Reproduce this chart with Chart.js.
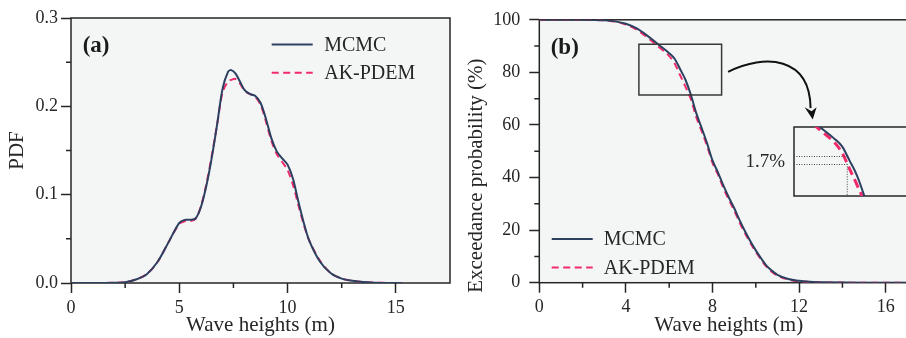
<!DOCTYPE html>
<html>
<head>
<meta charset="utf-8">
<script src="https://cdn.jsdelivr.net/npm/chart.js@4.4.1/dist/chart.umd.min.js"></script>
<style>
  html, body { margin: 0; padding: 0; width: 906px; height: 338px; overflow: hidden; background: #fff; }
  canvas { position: absolute; top: 0; }
  #chartA { left: 0; }
  #chartB { left: 460px; }
  #zoomB { left: 793px; top: 126px; }
</style>
</head>
<body>
<canvas id="chartA" width="460" height="338"></canvas>
<canvas id="chartB" width="460" height="338"></canvas>
<canvas id="zoomB" width="125" height="71"></canvas>
<script>
const FONT = "'Liberation Serif', 'Times New Roman', serif";
const INK = '#262626';
const PLOT_BG = '#f4f6f6';
const MCMC_COLOR = '#2c4060';
const AK_COLOR = '#f22a6c';

// (a) PDF of wave heights
const heightsA = [0, 1, 2, 2.5, 3, 3.5, 4, 4.5, 5, 5.25, 5.5, 5.75, 6, 6.25, 6.5, 6.75, 7, 7.25, 7.4, 7.6, 7.8, 8,
  8.25, 8.5, 8.75, 9, 9.25, 9.5, 9.75, 10, 10.25, 10.5, 10.75, 11, 11.5, 12, 12.5, 13, 13.5, 14, 15, 15.3];
const pdfMcmc = [0, 0, 0.0003, 0.001, 0.004, 0.010, 0.024, 0.046, 0.068, 0.0715, 0.0715, 0.073, 0.086, 0.110, 0.142,
  0.180, 0.220, 0.239, 0.241, 0.237, 0.228, 0.219, 0.214, 0.212, 0.204, 0.186, 0.164, 0.149, 0.141, 0.134, 0.118,
  0.092, 0.068, 0.048, 0.024, 0.011, 0.005, 0.0025, 0.001, 0.0004, 0, 0];
const pdfAkPdem = [0, 0, 0.0003, 0.001, 0.004, 0.010, 0.024, 0.046, 0.067, 0.070, 0.070, 0.0725, 0.087, 0.112, 0.144,
  0.180, 0.216, 0.228, 0.230, 0.231, 0.226, 0.218, 0.214, 0.211, 0.202, 0.183, 0.161, 0.146, 0.137, 0.128, 0.111,
  0.088, 0.066, 0.048, 0.025, 0.011, 0.005, 0.0025, 0.001, 0.0004, 0, 0];
const xTicksA = [0, 5, 10, 15];
const xMinorA = [2.5, 7.5, 12.5];
const yTicksA = [0, 0.1, 0.2, 0.3];
const yMinorA = [0.05, 0.15, 0.25];

// (b) exceedance probability (%)
const heightsB = [0, 1, 2, 2.5, 3, 3.5, 4, 4.5, 5, 5.5, 6, 6.25, 6.5, 6.75, 7, 7.25, 7.5, 7.75, 8, 8.25, 8.5, 8.75, 9,
  9.25, 9.5, 9.75, 10, 10.25, 10.5, 10.75, 11, 11.5, 12, 12.5, 13, 14, 15, 16, 17.5];
const exceedMcmc = [100, 100, 100, 99.95, 99.8, 99.4, 98.5, 96.7, 93.9, 90.6, 87.3, 85.2, 81.3, 77.2, 71.5, 64.5, 58.8,
  53.0, 46.5, 42.0, 37.0, 32.5, 28.4, 23.8, 19.6, 15.8, 12.3, 9.2, 6.4, 4.5, 3.0, 1.4, 0.7, 0.35, 0.2, 0.05, 0, 0, 0];
const exceedAkPdem = [100, 100, 100, 99.95, 99.8, 99.3, 98.2, 96.2, 93.2, 89.8, 86.2, 83.4, 79.0, 74.6, 69.8, 63.0, 57.6,
  52.0, 45.6, 41.2, 36.0, 31.6, 27.5, 22.9, 18.8, 15.1, 11.7, 8.7, 6.0, 4.1, 2.7, 1.2, 0.5, 0.3, 0.15, 0.04, 0, 0, 0];
const xTicksB = [0, 4, 8, 12, 16];
const xMinorB = [2, 6, 10, 14];
const yTicksB = [0, 20, 40, 60, 80, 100];
const yMinorB = [10, 30, 50, 70, 90];

// zoomed window in (b), the magnified inset and the marked gap
const zoomBox = { x: [4.6, 8.42], y: [71.4, 90.7] };
const zoomInset = { x: [4.6, 8.84], y: [71.4, 90.7] };
const gapX = 6.42;
const gapY = [82.5, 80.4];
const gapLabel = '1.7%';
// arrow from the window to the inset: start, two control points, end, tip
const arrowPath = [[8.72, 80.2], [10.43, 87.2], [12.5, 86.0], [12.53, 66.4], [12.63, 62.1]];

Chart.defaults.font.family = FONT;
Chart.defaults.color = INK;

function series(label, xs, ys, color, dash, width, smooth) {
  const ds = {
    label: label,
    data: xs.map((x, i) => ({ x: x, y: ys[i] })),
    borderColor: color,
    borderWidth: width,
    borderDash: dash,
    pointRadius: 0,
    fill: false
  };
  if (smooth) ds.tension = smooth;
  else ds.cubicInterpolationMode = 'monotone';
  return ds;
}

const plotFrame = {
  id: 'plotFrame',
  beforeDraw(chart) {
    const a = chart.chartArea, ctx = chart.ctx;
    ctx.save();
    ctx.fillStyle = PLOT_BG;
    ctx.fillRect(a.left, a.top, a.right - a.left, a.bottom - a.top);
    ctx.restore();
  },
  beforeDatasetsDraw(chart) {
    const a = chart.chartArea, ctx = chart.ctx;
    ctx.save();
    ctx.strokeStyle = INK;
    ctx.lineWidth = 1.5;
    ctx.strokeRect(a.left, a.top, a.right - a.left, a.bottom - a.top);
    ctx.restore();
  }
};

const minorTicks = {
  id: 'minorTicks',
  afterDraw(chart, args, o) {
    const ctx = chart.ctx, a = chart.chartArea;
    ctx.save();
    ctx.strokeStyle = INK;
    ctx.lineWidth = 1.5;
    ctx.beginPath();
    o.x.forEach(v => {
      const px = chart.scales.x.getPixelForValue(v);
      ctx.moveTo(px, a.bottom); ctx.lineTo(px, a.bottom + o.length);
    });
    o.y.forEach(v => {
      const py = chart.scales.y.getPixelForValue(v);
      ctx.moveTo(a.left, py); ctx.lineTo(a.left - o.length, py);
    });
    ctx.stroke();
    ctx.restore();
  }
};

// legend and panel letter drawn inside the plot area
const innerLegend = {
  id: 'innerLegend',
  afterDraw(chart, args, o) {
    const ctx = chart.ctx, a = chart.chartArea;
    chart.data.datasets.forEach((ds, i) => {
      const x = a.left + o.x, y = a.top + o.y + i * o.row;
      ctx.save();
      ctx.strokeStyle = ds.borderColor;
      ctx.lineWidth = ds.borderWidth;
      ctx.setLineDash(ds.borderDash);
      ctx.beginPath(); ctx.moveTo(x, y); ctx.lineTo(x + o.line, y); ctx.stroke();
      ctx.setLineDash([]);
      ctx.fillStyle = INK;
      ctx.font = '20px ' + FONT;
      ctx.textBaseline = 'middle';
      ctx.fillText(ds.label, x + o.line + o.gap, y + 1);
      ctx.restore();
    });
    ctx.save();
    ctx.fillStyle = '#1a1a1a';
    ctx.font = 'bold 23px ' + FONT;
    ctx.fillText(o.panel, a.left + o.panelX, a.top + o.panelY);
    ctx.restore();
  }
};

const zoomCallout = {
  id: 'zoomCallout',
  afterDraw(chart) {
    const ctx = chart.ctx, a = chart.chartArea, sx = chart.scales.x, sy = chart.scales.y;
    const P = p => [sx.getPixelForValue(p[0]), sy.getPixelForValue(p[1])];
    ctx.save();
    ctx.strokeStyle = '#383838';
    ctx.lineWidth = 1.5;
    const x0 = sx.getPixelForValue(zoomBox.x[0]), x1 = sx.getPixelForValue(zoomBox.x[1]);
    const y0 = sy.getPixelForValue(zoomBox.y[1]), y1 = sy.getPixelForValue(zoomBox.y[0]);
    ctx.strokeRect(x0, y0, x1 - x0, y1 - y0);

    const [s, c1, c2, e, tip] = arrowPath.map(P);
    ctx.strokeStyle = '#111';
    ctx.lineWidth = 2;
    ctx.beginPath();
    ctx.moveTo(s[0], s[1]);
    ctx.bezierCurveTo(c1[0], c1[1], c2[0], c2[1], e[0], e[1]);
    ctx.stroke();
    ctx.fillStyle = '#111';
    ctx.beginPath();
    ctx.moveTo(tip[0], tip[1]);
    ctx.lineTo(e[0] - 6, e[1] - 1);
    ctx.lineTo(e[0] + 1, e[1] + 3);
    ctx.lineTo(e[0] + 6, e[1] - 1);
    ctx.closePath();
    ctx.fill();

    ctx.fillStyle = INK;
    ctx.font = '19px ' + FONT;
    ctx.textAlign = 'right';
    ctx.textBaseline = 'middle';
    ctx.fillText(gapLabel, a.left + 245.7, sy.getPixelForValue((gapY[0] + gapY[1]) / 2 - 35.5));

    ctx.font = '21px ' + FONT;
    ctx.textAlign = 'center';
    ctx.translate(a.left - 62.6, 175.6);
    ctx.rotate(-Math.PI / 2);
    ctx.fillText('Exceedance probability (%)', 0, 0);
    ctx.restore();
  }
};

const gapMarks = {
  id: 'gapMarks',
  afterDatasetsDraw(chart) {
    const ctx = chart.ctx, a = chart.chartArea, sx = chart.scales.x, sy = chart.scales.y;
    const gx = sx.getPixelForValue(gapX);
    ctx.save();
    ctx.strokeStyle = '#444';
    ctx.lineWidth = 1;
    ctx.setLineDash([1, 1.5]);
    ctx.beginPath();
    gapY.forEach(v => {
      const gy = Math.round(sy.getPixelForValue(v)) + 0.5;
      ctx.moveTo(a.left, gy); ctx.lineTo(gx, gy);
    });
    ctx.moveTo(gx, sy.getPixelForValue(gapY[1])); ctx.lineTo(gx, a.bottom);
    ctx.stroke();
    ctx.restore();
  }
};

function axis(range, ticks, size, fmt, labelPad, title, titlePad) {
  return {
    type: 'linear',
    min: range[0],
    max: range[1],
    afterBuildTicks: s => { s.ticks = ticks.map(v => ({ value: v })); },
    afterFit: s => { if (s.isHorizontal()) s.height = size; else s.width = size; },
    grid: { drawOnChartArea: false, drawTicks: true, tickLength: 10, tickWidth: 1.5, tickColor: INK },
    border: { display: false },
    ticks: { padding: labelPad, font: { size: 18 }, color: INK, maxRotation: 0, autoSkip: false, callback: fmt },
    title: { display: !!title, text: title, color: INK, font: { size: 21 }, padding: titlePad }
  };
}

new Chart(document.getElementById('chartA'), {
  type: 'line',
  data: {
    datasets: [
      series('MCMC', heightsA, pdfMcmc, MCMC_COLOR, [], 2, 0.3),
      series('AK-PDEM', heightsA, pdfAkPdem, AK_COLOR, [7, 4.5], 2, 0.3)
    ]
  },
  options: {
    responsive: false,
    animation: false,
    devicePixelRatio: 1,
    layout: { padding: { left: 0, top: 18, right: 10, bottom: 0 } },
    scales: {
      x: axis([0, 17.5], xTicksA, 55, v => String(v), 4, 'Wave heights (m)', { top: 0, bottom: 0 }),
      y: axis([0, 0.3], yTicksA, 71, v => v.toFixed(1), 3, 'PDF', { top: 5, bottom: 0 })
    },
    plugins: {
      legend: { display: false },
      tooltip: { enabled: false },
      minorTicks: { x: xMinorA, y: yMinorA, length: 5 },
      innerLegend: { x: 200.7, y: 26.5, row: 28.3, line: 41, gap: 11.5, panel: '(a)', panelX: 11.7, panelY: 34 }
    }
  },
  plugins: [plotFrame, minorTicks, innerLegend]
});

new Chart(document.getElementById('chartB'), {
  type: 'line',
  data: {
    datasets: [
      series('MCMC', heightsB, exceedMcmc, MCMC_COLOR, [], 2),
      series('AK-PDEM', heightsB, exceedAkPdem, AK_COLOR, [7, 4.5], 2)
    ]
  },
  options: {
    responsive: false,
    animation: false,
    devicePixelRatio: 1,
    layout: { padding: { left: 0, top: 18, right: 1.8, bottom: 0 } },
    scales: {
      x: axis([0, 17.5], xTicksB, 55.3, v => String(v), 4, 'Wave heights (m)', { top: 0, bottom: 0 }),
      y: axis([0, 100], yTicksB, 79.3, v => String(v), 9, '', 0)
    },
    plugins: {
      legend: { display: false },
      tooltip: { enabled: false },
      minorTicks: { x: xMinorB, y: yMinorB, length: 5 },
      innerLegend: { x: 12.4, y: 219.3, row: 28.4, line: 41, gap: 11, panel: '(b)', panelX: 11.4, panelY: 34 }
    }
  },
  plugins: [plotFrame, minorTicks, innerLegend, zoomCallout]
});

new Chart(document.getElementById('zoomB'), {
  type: 'line',
  data: {
    datasets: [
      series('MCMC', heightsB, exceedMcmc, MCMC_COLOR, [], 2),
      series('AK-PDEM', heightsB, exceedAkPdem, AK_COLOR, [9, 5], 3)
    ]
  },
  options: {
    responsive: false,
    animation: false,
    devicePixelRatio: 1,
    layout: { padding: { left: 1, top: 1, right: 0, bottom: 1 } },
    scales: {
      x: { type: 'linear', display: false, min: zoomInset.x[0], max: zoomInset.x[1] },
      y: { type: 'linear', display: false, min: zoomInset.y[0], max: zoomInset.y[1] }
    },
    plugins: { legend: { display: false }, tooltip: { enabled: false } }
  },
  plugins: [plotFrame, gapMarks]
});
</script>
</body>
</html>
